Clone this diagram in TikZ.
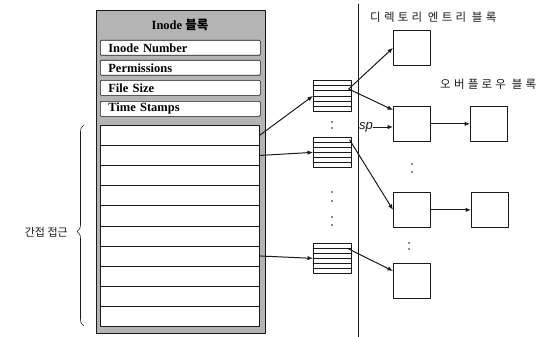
\documentclass[tikz,border=0pt]{standalone}
\usepackage{fontspec}
\setmainfont{Liberation Serif}
\newfontfamily\cjk{Noto Sans CJK KR}
\newfontfamily\cjkwide[LetterSpace=28]{Noto Sans CJK KR}
\newfontfamily\sansit{Liberation Sans}
\usetikzlibrary{arrows.meta,positioning,calc,decorations.pathreplacing}
\definecolor{shade}{HTML}{B4B4B4}
\definecolor{ink}{HTML}{1A1A1A}
\tikzset{
    every picture/.style={line cap=round,line join=round},
    inodebox/.style={draw=ink,fill=shade,line width=0.8pt,anchor=north west,
      minimum width=169pt,minimum height=323pt,inner sep=0pt},
    fieldbox/.style={draw=ink,fill=white,line width=0.7pt,rounded corners=1pt,
      anchor=north west,minimum width=160pt,minimum height=15pt,text width=144pt,
      inner xsep=8pt,inner ysep=0pt,align=left,
      font=\fontsize{12.5}{13}\selectfont\bfseries},
    rowbox/.style={draw=ink,fill=white,line width=0.6pt,anchor=north west,
      minimum width=159pt,minimum height=20.1pt,inner sep=0pt},
    indexblk/.style={draw=ink,fill=white,line width=0.7pt,anchor=north west,
      minimum width=38pt,minimum height=30pt,inner sep=0pt},
    dirblk/.style={draw=ink,fill=white,line width=0.7pt,anchor=north west,
      minimum width=37pt,minimum height=35pt,inner sep=0pt},
    linkarrow/.style={-{Latex[length=5.5pt,width=4.5pt]},draw=ink,line width=1pt},
    krlabel/.style={font=\fontsize{11.5}{12}\cjkwide,text=ink,inner sep=0pt},
    krplain/.style={font=\fontsize{11}{12}\cjk,text=ink,inner sep=0pt}
}

\begin{document}
\begin{tikzpicture}[x=1pt,y=-1pt,font=\small]
  \useasboundingbox (0,0) rectangle (546,337);
  % inode block
  \node[inodebox] (inode) at (96,10) {};
  \node[font=\fontsize{12.5}{13}\selectfont\bfseries,inner sep=0pt] (ititle) at (180,25) {Inode {\cjk 블록}};
  \node[fieldbox] (fnum) at (100,40) {Inode Number};
  \node[fieldbox] (fperm) at (100,60) {Permissions};
  \node[fieldbox] (fsize) at (100,80) {File Size};
  \node[fieldbox] (ftime) at (100,101) {Time Stamps};
  \foreach \i in {1,...,10} {
    \node[rowbox] (r\i) at (100,{125+(\i-1)*20.1}) {};
  }
  % brace
  \coordinate (bbot) at (84,326);
  \coordinate (btop) at (84,125);
  \draw[ink,line width=0.6pt,decorate,decoration={brace,amplitude=7pt,aspect=0.47}] (bbot) -- (btop);
  \coordinate (btip) at (76,232);
  \node[krplain,left=8pt of btip] (acc) {간접 접근};
  % separator
  \draw[ink,line width=1pt] (358,4) -- (358,337);
  % index blocks
  \node[indexblk,minimum height=31pt] (ix1) at (313,80) {};
  \node[indexblk] (ix2) at (313,137) {};
  \node[indexblk] (ix3) at (313,243) {};
  \foreach \b in {ix1,ix2,ix3} {
    \foreach \k in {1,...,5} {
      \draw[ink,line width=0.5pt] ($(\b.north west)!\k/6!(\b.south west)$) -- ($(\b.north east)!\k/6!(\b.south east)$);
    }
  }
  % directory and overflow blocks
  \node[dirblk] (d1) at (393,30) {};
  \node[dirblk] (d2) at (393,106) {};
  \node[dirblk] (d3) at (393,192) {};
  \node[dirblk] (d4) at (393,263) {};
  \node[dirblk] (o1) at (470,106) {};
  \node[dirblk] (o2) at (471,192) {};
  \node[krlabel,anchor=west] (dirlbl) at (370,17) {디렉토리 엔트리 블록};
  \node[krlabel,anchor=west] (ovflbl) at (440,84) {오버플로우 블록};
  \node[font=\fontsize{13}{14}\sansit\itshape,text=ink,inner sep=0pt,anchor=east] (sp) at (373,127) {sp};
  % dots
  \foreach \x/\y in {332/122,332/128,332/192,332/201,332/217,332/225,412/164,412/172,409/243,409/249} {
    \fill[ink] (\x,\y) circle (0.9pt);
  }
  % pointers
  \draw[linkarrow] (r1.east) -- (ix1.west);
  \draw[linkarrow] (r2.east) -- (ix2.west);
  \draw[linkarrow] (r7.east) -- (ix3.west);
  \coordinate (ix1out) at ($(ix1.north east)+(-3,9)$);
  \draw[linkarrow] (ix1out) -- (d1.west);
  \draw[linkarrow] (ix1out) -- ($(d2.north west)+(0,4)$);
  \draw[linkarrow] ($(ix2.north east)+(-2,3)$) -- (d3.west);
  \draw[linkarrow] ($(ix3.north east)+(-3,6)$) -- ($(d4.north west)+(0,8)$);
  \draw[linkarrow] (d2.east) -- (o1.west);
  \draw[linkarrow] (d3.east) -- (o2.west);
  \draw[linkarrow] (sp.east) -- (sp.east -| d2.west);
\end{tikzpicture}
\end{document}
